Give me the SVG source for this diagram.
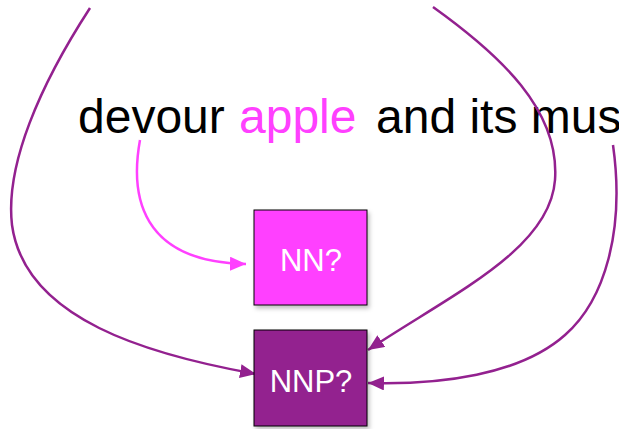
<svg xmlns="http://www.w3.org/2000/svg" width="619" height="429" viewBox="0 0 619 429">
<style>
.lbl{font-family:"Liberation Sans",Arial,sans-serif;font-size:48px;fill:#000}
.hl{fill:#ff40ff}
.box{stroke:#000;stroke-width:1}
.bt{font-family:"Liberation Sans",Arial,sans-serif;font-size:31px;fill:#fff;text-anchor:middle}
.c{fill:none;stroke-width:2.5}
.p{stroke:#93218f}
.m{stroke:#ff40ff}
</style>
<defs>
<filter id="sh" x="-10%" y="-10%" width="130%" height="130%">
<feDropShadow dx="2" dy="3" stdDeviation="2" flood-color="#000" flood-opacity="0.25"/>
</filter>
<marker id="ap" markerUnits="userSpaceOnUse" markerWidth="18" markerHeight="14" refX="16" refY="7" orient="auto">
<path d="M0,0 L16,7 L0,14 Z" fill="#93218f"/>
</marker>
<marker id="am" markerUnits="userSpaceOnUse" markerWidth="18" markerHeight="14" refX="16" refY="7" orient="auto">
<path d="M0,0 L16,7 L0,14 Z" fill="#ff40ff"/>
</marker>
</defs>
<g id="sentence">
<text class="lbl" y="133"><tspan x="78">devour</tspan><tspan x="239" class="hl">apple</tspan><tspan x="376">and its mus</tspan></text>
</g>
<g id="connectors">
<path class="c m" d="M140,140 C130,195 140,262 246,264" marker-end="url(#am)"/>
<path class="c p" d="M90,8 C40,85 5,165 12,225 C25,320 150,355 256,374" marker-end="url(#ap)"/>
<path class="c p" d="M433,7 C500,55 560,110 555,180 C550,250 450,295 368,350" marker-end="url(#ap)"/>
<path class="c p" d="M613,145 C625,230 605,300 565,335 C520,375 440,385 368,383" marker-end="url(#ap)"/>
</g>
<g id="nn">
<rect class="box" x="254" y="210" width="113" height="95" fill="#ff40ff" filter="url(#sh)"/>
<text class="bt" x="311" y="271">NN?</text>
</g>
<g id="nnp">
<rect class="box" x="254" y="330" width="113" height="96" fill="#93218f" filter="url(#sh)"/>
<text class="bt" x="311" y="392">NNP?</text>
</g>
</svg>
